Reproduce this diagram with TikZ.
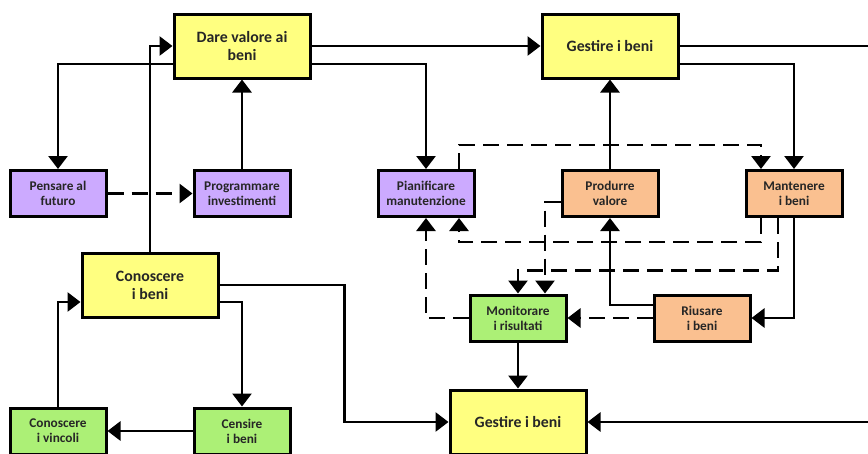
\documentclass[tikz,border=0pt]{standalone}
\usepackage{fontspec}
\setmainfont{Carlito}
\usetikzlibrary{arrows.meta,positioning}
\definecolor{giallo}{RGB}{255,255,128}
\definecolor{viola}{RGB}{204,170,255}
\definecolor{arancio}{RGB}{250,192,144}
\definecolor{verde}{RGB}{172,240,118}

\begin{document}
\begin{tikzpicture}[x=1pt,y=-1pt]
		\tikzstyle{area}=[draw,line width=3pt,minimum width=136pt,minimum height=64pt,align=center,font=\fontsize{15.8}{18}\selectfont\bfseries,text=black!85]
		\tikzstyle{task}=[draw,line width=3pt,minimum width=96pt,minimum height=46pt,align=center,font=\fontsize{13.3}{15}\selectfont\bfseries,text=black!85]
		\tikzstyle{flow}=[line width=2.8pt,arrows={-Triangle[width=19pt,length=13pt]}]
		\tikzstyle{wire}=[line width=2.8pt]
		\tikzstyle{feedback}=[line width=2.8pt,dash pattern=on 16pt off 8pt,arrows={-Triangle[width=19pt,length=13pt]}]
		
		\useasboundingbox (0,0) rectangle (868,453);
		
		% boxes
		\node[area,fill=giallo] (dare) at (242,46) {Dare valore ai\\beni};
		\node[area,fill=giallo] (gestT) at (610,46) {Gestire i beni};
		\node[area,fill=giallo] (conosci) at (150,285) {Conoscere\\i beni};
		\node[area,fill=giallo] (gestB) at (518,422) {Gestire i beni};
		
		\node[task,fill=viola] (pensare) at (58,193.5) {Pensare al\\futuro};
		\node[task,fill=viola] (programma) at (242,193.5) {Programmare\\investimenti};
		\node[task,fill=viola] (pianifica) at (426,193.5) {Pianificare\\manutenzione};
		\node[task,fill=arancio] (produrre) at (610,193.5) {Produrre\\valore};
		\node[task,fill=arancio] (mantenere) at (794,193.5) {Mantenere\\i beni};
		\node[task,fill=verde] (monitora) at (518,318) {Monitorare\\i risultati};
		\node[task,fill=arancio] (riusare) at (702,318) {Riusare\\i beni};
		\node[task,fill=verde] (vincoli) at (58,431) {Conoscere\\i vincoli};
		\node[task,fill=verde] (censire) at (242,431) {Censire\\i beni};
		
		\coordinate (outT) at (868,46);
		\coordinate (outB) at (868,422);
		
		% solid links
		\draw[flow] (dare.east) -- (gestT.west);
		\draw[wire] (gestT.east) -- (outT);
		\draw[flow] ([yshift=-18pt]dare.west) -| (pensare.north);
		\draw[flow] ([yshift=-18pt]dare.east) -| (pianifica.north);
		\draw[flow] (programma.north) -- (dare.south);
		\draw[flow] (conosci.north) |- (dare.west);
		\draw[flow] (produrre.north) -- (gestT.south);
		\draw[flow] ([yshift=-18pt]gestT.east) -| (mantenere.north);
		\draw[flow] ([yshift=13pt]riusare.west) -| (produrre.south);
		\draw[flow] (mantenere.south) |- (riusare.east);
		\draw[flow] (monitora.south) -- (gestB.north);
		\draw[flow] (outB) -- (gestB.east);
		\draw[flow] (conosci.east) -- ++(125,0) |- (gestB.west);
		\draw[flow] ([yshift=-17pt]conosci.east) -| (censire.north);
		\draw[flow] (censire.west) -- (vincoli.east);
		\draw[flow] (vincoli.north) |- ([yshift=-17pt]conosci.west);
		
		% dashed links
		\draw[feedback] (pensare.east) -- (programma.west);
		\draw[feedback] ([xshift=33pt]pianifica.north) -- ++(0,-24) -| ([xshift=-33pt]mantenere.north);
		\draw[feedback] ([xshift=-33pt]mantenere.south) -- ++(0,24) -| ([xshift=33pt]pianifica.south);
		\draw[feedback] ([xshift=-16pt]mantenere.south) -- ++(0,52.5) -| (monitora.north);
		\draw[feedback] ([yshift=-8.5pt]produrre.west) -| ([xshift=27pt]monitora.north);
		\draw[feedback] (monitora.west) -| (pianifica.south);
		\draw[feedback] (riusare.west) -- (monitora.east);
\end{tikzpicture}
\end{document}
